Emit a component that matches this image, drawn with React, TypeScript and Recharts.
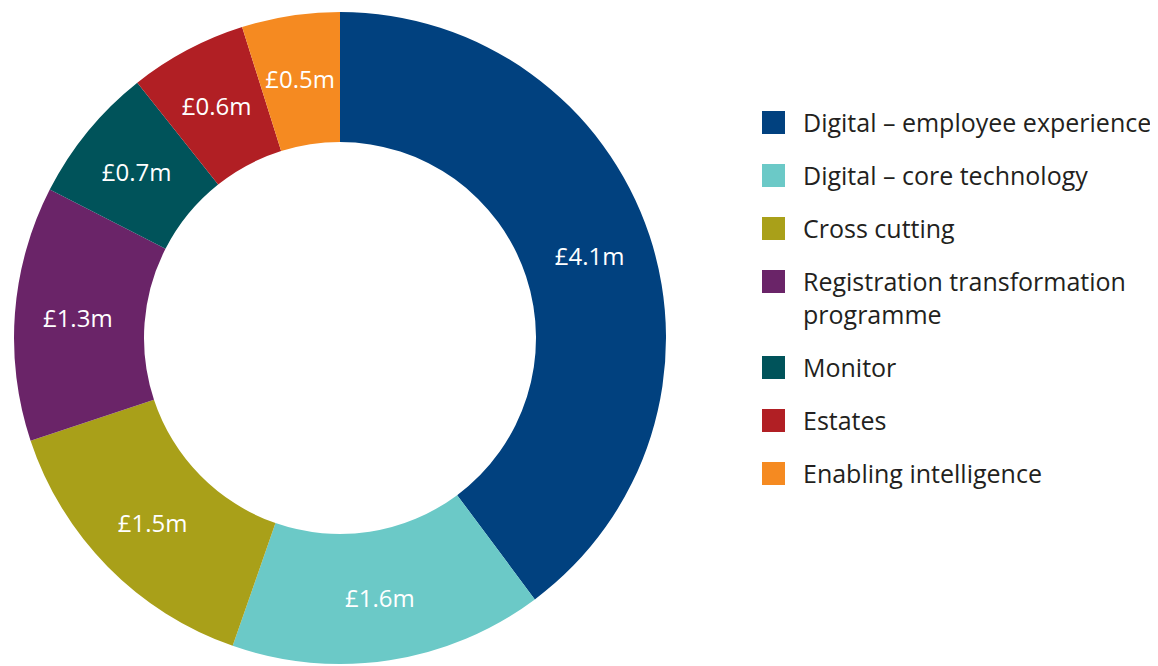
import React from 'react';
import { PieChart, Pie, Cell, Legend } from 'recharts';

const CATEGORIES = [
    'Digital – employee experience',
    'Digital – core technology',
    'Cross cutting',
    'Registration transformation programme',
    'Monitor',
    'Estates',
    'Enabling intelligence',
];

const VALUES = [4.1, 1.6, 1.5, 1.3, 0.7, 0.6, 0.5];

const LABELS = ['£4.1m', '£1.6m', '£1.5m', '£1.3m', '£0.7m', '£0.6m', '£0.5m'];

const COLORS = ['#01417F', '#6BC9C7', '#A9A019', '#6A2468', '#00535A', '#B11F24', '#F58A21'];

const FONT = '"Open Sans", "Noto Sans", sans-serif';

const data = CATEGORIES.map((name, i) => ({ name, value: VALUES[i], label: LABELS[i] }));

const RADIAN = Math.PI / 180;

const renderLabel = ({ cx, cy, midAngle, innerRadius, outerRadius, index }: any) => {
    const r = (innerRadius + outerRadius) / 2 + 2;
    const x = cx + r * Math.cos(-midAngle * RADIAN);
    const y = cy + r * Math.sin(-midAngle * RADIAN);
    return (
        <text
            x={x}
            y={y}
            fill="#ffffff"
            textAnchor="middle"
            dominantBaseline="central"
            fontSize={24}
            fontFamily={FONT}
        >
            {data[index].label}
        </text>
    );
};

const CustomLegend = () => (
    <div style={{ fontFamily: FONT, fontSize: 25, color: '#231f20', lineHeight: '33px' }}>
        {data.map((entry, index) => (
            <div key={`legend-${index}`} style={{ display: 'flex', alignItems: 'flex-start', marginBottom: 20 }}>
                <span
                    style={{
                        display: 'inline-block',
                        width: 23,
                        height: 23,
                        background: COLORS[index],
                        marginTop: 5,
                        marginRight: 18,
                        flexShrink: 0,
                    }}
                />
                <span style={{ maxWidth: 355 }}>{entry.name}</span>
            </div>
        ))}
    </div>
);

export default function App() {
    return (
        <PieChart width={1142} height={658} margin={{ top: 0, right: 0, bottom: 0, left: 0 }}>
            <Pie
                data={data}
                dataKey="value"
                nameKey="name"
                cx={332}
                cy={330}
                innerRadius={196}
                outerRadius={326}
                startAngle={90}
                endAngle={-270}
                stroke="none"
                labelLine={false}
                label={renderLabel}
                isAnimationActive={false}
            >
                {data.map((entry, index) => (
                    <Cell key={`cell-${index}`} fill={COLORS[index]} />
                ))}
            </Pie>
            <Legend
                content={<CustomLegend />}
                layout="vertical"
                wrapperStyle={{ left: 754, top: 98, width: 390, bottom: 'auto' }}
            />
        </PieChart>
    );
}
